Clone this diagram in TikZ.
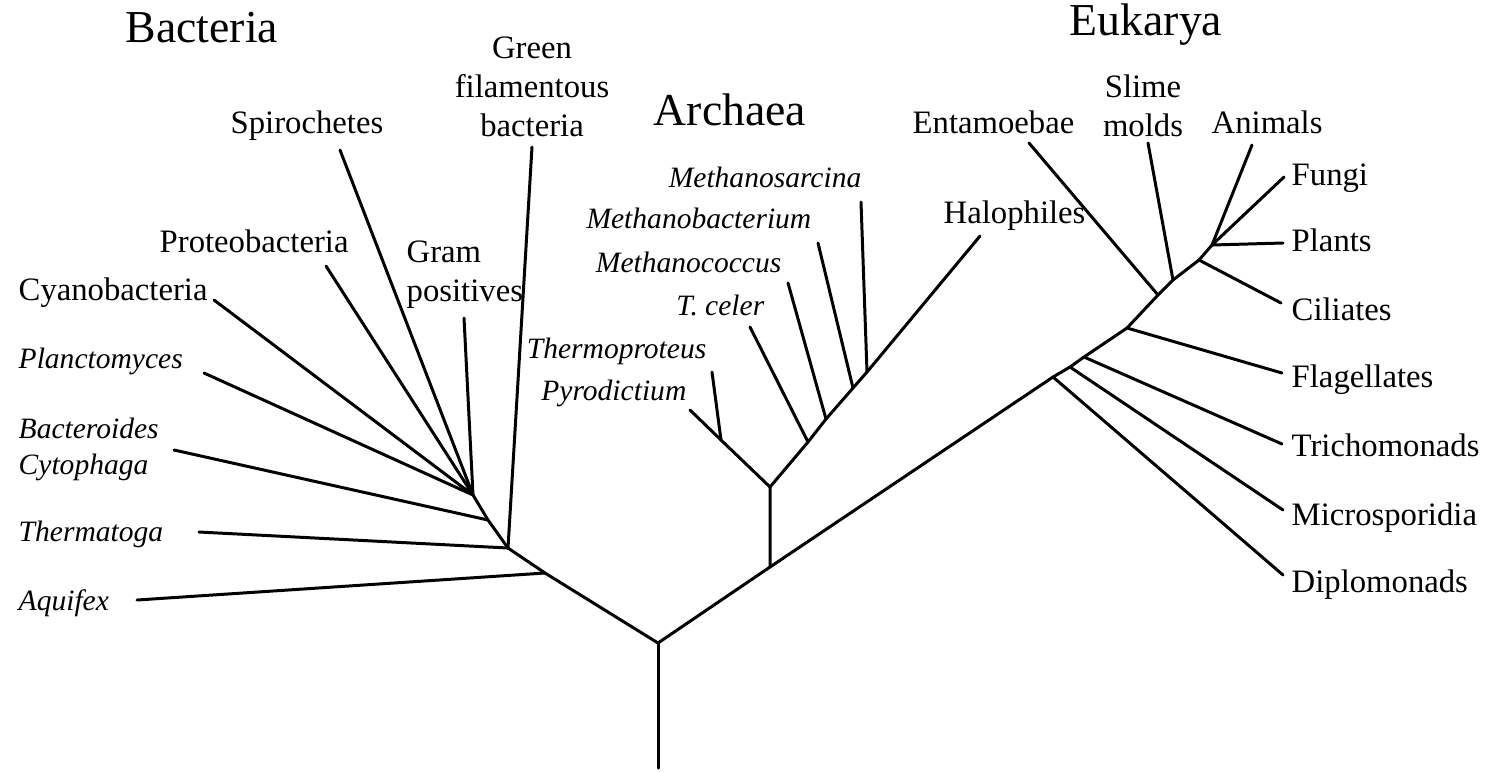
\documentclass[tikz,border=0pt]{standalone}
\usepackage{fontspec}
\setmainfont{Liberation Serif}
\tikzset{
  branch/.style={line width=0.85pt, line cap=round, line join=round},
  taxon/.style={inner sep=0pt, font=\fontsize{9.3}{11.1}\selectfont},
  genus/.style={inner sep=0pt, font=\fontsize{8.4}{10.4}\selectfont\itshape},
  domainlabel/.style={inner sep=0pt, font=\fontsize{13}{15}\selectfont}
}

\begin{document}
\begin{tikzpicture}[x=0.01cm, y=-0.01cm]
  \useasboundingbox (0,0) rectangle (1488,772);

  \node[domainlabel, anchor=base] (bacteria) at (202,42) {Bacteria};
  \node[domainlabel, anchor=base] (archaea) at (730,125) {Archaea};
  \node[domainlabel, anchor=base] (eukarya) at (1146,35) {Eukarya};

  \node[taxon, align=center, anchor=north] (green) at (532,36) {Green\\filamentous\\bacteria};
  \node[taxon, anchor=base] (spiro) at (307,133) {Spirochetes};
  \node[taxon, anchor=base west] (proteo) at (159,252) {Proteobacteria};
  \node[taxon, align=left, anchor=north west] (gram) at (406,240) {Gram\\positives};
  \node[taxon, anchor=base west] (cyano) at (18,300) {Cyanobacteria};
  \node[genus, anchor=base west] (plancto) at (18,368) {Planctomyces};
  \node[genus, align=left, anchor=north west] (bactero) at (18,417) {Bacteroides\\Cytophaga};
  \node[genus, anchor=base west] (thermato) at (18,541) {Thermatoga};
  \node[genus, anchor=base west] (aquifex) at (18,610) {Aquifex};

  \node[genus, anchor=base east] (msarcina) at (862,187) {Methanosarcina};
  \node[genus, anchor=base east] (mbacter) at (812,228) {Methanobacterium};
  \node[genus, anchor=base east] (mcoccus) at (782,272) {Methanococcus};
  \node[genus, anchor=base east] (tceler) at (765,315) {T. celer};
  \node[genus, anchor=base east] (thermopro) at (707,358) {Thermoproteus};
  \node[genus, anchor=base east] (pyro) at (687,400) {Pyrodictium};
  \node[taxon, anchor=base west] (halo) at (943,223) {Halophiles};

  \node[taxon, anchor=base west] (entam) at (912,133) {Entamoebae};
  \node[taxon, align=center, anchor=north] (slime) at (1143,74) {Slime\\molds};
  \node[taxon, anchor=base west] (animals) at (1211,133) {Animals};
  \node[taxon, anchor=base west] (fungi) at (1291,185) {Fungi};
  \node[taxon, anchor=base west] (plants) at (1291,251) {Plants};
  \node[taxon, anchor=base west] (ciliates) at (1291,320) {Ciliates};
  \node[taxon, anchor=base west] (flagell) at (1291,387) {Flagellates};
  \node[taxon, anchor=base west] (tricho) at (1291,456) {Trichomonads};
  \node[taxon, anchor=base west] (micro) at (1291,525) {Microsporidia};
  \node[taxon, anchor=base west] (diplo) at (1291,592) {Diplomonads};

  \coordinate (root) at (658,768);
  \coordinate (r0) at (658,643);
  \coordinate (b1) at (545,573);
  \coordinate (b2) at (508,548);
  \coordinate (b3) at (488,520);
  \coordinate (b4) at (473,495);
  \coordinate (a0) at (770,567);
  \coordinate (a1) at (770,487);
  \coordinate (a2) at (721,440);
  \coordinate (a3) at (808,442);
  \coordinate (a4) at (826,419);
  \coordinate (a5) at (853,388);
  \coordinate (a6) at (867,372);
  \coordinate (e1) at (1053,377);
  \coordinate (e2) at (1070,367);
  \coordinate (e3) at (1084,357);
  \coordinate (e4) at (1127,328);
  \coordinate (e5) at (1158,295);
  \coordinate (e6) at (1173,280);
  \coordinate (e7) at (1199,260);
  \coordinate (e8) at (1212,245);

  \coordinate (tAquifex) at (137,600);
  \coordinate (tThermato) at (199,532);
  \coordinate (tBactero) at (174,450);
  \coordinate (tPlancto) at (204,373);
  \coordinate (tCyano) at (214,300);
  \coordinate (tProteo) at (326,266);
  \coordinate (tSpiro) at (340,150);
  \coordinate (tGram) at (464,318);
  \coordinate (tGreen) at (532,147);
  \coordinate (tPyro) at (690,410);
  \coordinate (tThermopro) at (712,372);
  \coordinate (tCeler) at (750,327);
  \coordinate (tMcoccus) at (788,283);
  \coordinate (tMbacter) at (818,243);
  \coordinate (tMsarcina) at (861,202);
  \coordinate (tHalo) at (980,236);
  \coordinate (tEntam) at (1029,143);
  \coordinate (tSlime) at (1148,143);
  \coordinate (tAnimals) at (1252,145);
  \coordinate (tFungi) at (1284,177);
  \coordinate (tPlants) at (1283,243);
  \coordinate (tCiliates) at (1281,303);
  \coordinate (tFlagell) at (1282,373);
  \coordinate (tTricho) at (1282,444);
  \coordinate (tMicro) at (1283,510);
  \coordinate (tDiplo) at (1283,575);

  \draw[branch] (root) -- (r0);
  \draw[branch] (r0) -- (b1) -- (b2) -- (b3) -- (b4);
  \draw[branch] (b1) -- (tAquifex);
  \draw[branch] (b2) -- (tThermato);
  \draw[branch] (b2) -- (tGreen);
  \draw[branch] (b3) -- (tBactero);
  \draw[branch] (b4) -- (tPlancto);
  \draw[branch] (b4) -- (tCyano);
  \draw[branch] (b4) -- (tProteo);
  \draw[branch] (b4) -- (tSpiro);
  \draw[branch] (b4) -- (tGram);

  \draw[branch] (r0) -- (a0) -- (a1);
  \draw[branch] (a1) -- (a2) -- (tPyro);
  \draw[branch] (a2) -- (tThermopro);
  \draw[branch] (a1) -- (a3) -- (a4) -- (a5) -- (a6) -- (tHalo);
  \draw[branch] (a3) -- (tCeler);
  \draw[branch] (a4) -- (tMcoccus);
  \draw[branch] (a5) -- (tMbacter);
  \draw[branch] (a6) -- (tMsarcina);

  \draw[branch] (a0) -- (e1) -- (e2) -- (e3) -- (e4) -- (e5) -- (e6) -- (e7) -- (e8);
  \draw[branch] (e1) -- (tDiplo);
  \draw[branch] (e2) -- (tMicro);
  \draw[branch] (e3) -- (tTricho);
  \draw[branch] (e4) -- (tFlagell);
  \draw[branch] (e5) -- (tEntam);
  \draw[branch] (e6) -- (tSlime);
  \draw[branch] (e7) -- (tCiliates);
  \draw[branch] (e8) -- (tPlants);
  \draw[branch] (e8) -- (tFungi);
  \draw[branch] (e8) -- (tAnimals);
\end{tikzpicture}
\end{document}
